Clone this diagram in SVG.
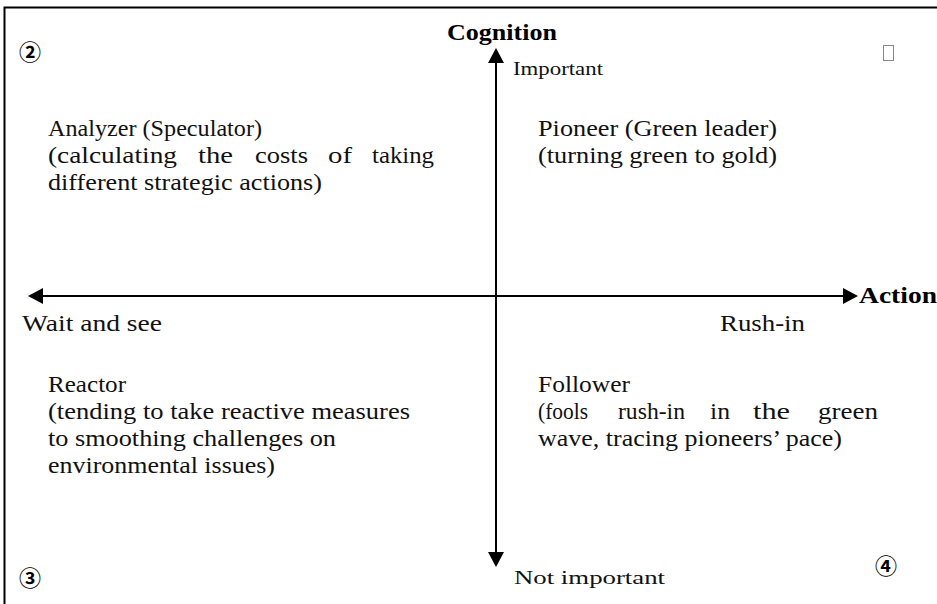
<svg xmlns="http://www.w3.org/2000/svg" width="937" height="604" viewBox="0 0 937 604">
<style>
.t{font-family:"Liberation Serif","Times New Roman",serif;font-size:23px;fill:#111}
.s{font-family:"Liberation Serif","Times New Roman",serif;font-size:19px;fill:#111}
.b{font-family:"Liberation Serif","Times New Roman",serif;font-size:23px;font-weight:bold;fill:#000}
.c{font-family:"Noto Sans CJK JP","DejaVu Sans",sans-serif;font-size:22px;font-weight:bold;fill:#000}
.ax{stroke:#000;stroke-width:2;fill:none}
</style>
<defs>
<marker id="ah" viewBox="0 0 15 16" refX="0" refY="8" markerWidth="15" markerHeight="16" markerUnits="userSpaceOnUse" orient="auto-start-reverse">
<path d="M0,0 L15,8 L0,16 Z" fill="#000"/>
</marker>
</defs>
<rect width="937" height="604" fill="#fff"/>
<path d="M4.5,604 V7.5 H937" stroke="#000" stroke-width="2" fill="none"/>
<g id="connectors">
<line class="ax" x1="43" y1="296" x2="843" y2="296" marker-start="url(#ah)" marker-end="url(#ah)"/>
<line class="ax" x1="496" y1="63" x2="496" y2="552" marker-start="url(#ah)" marker-end="url(#ah)"/>
</g>
<g id="axis-labels">
<text class="b" x="447" y="40" textLength="110" lengthAdjust="spacingAndGlyphs">Cognition</text>
<text class="s" x="513" y="75" textLength="90" lengthAdjust="spacingAndGlyphs">Important</text>
<text class="s" x="514" y="584" textLength="151" lengthAdjust="spacingAndGlyphs">Not important</text>
<text class="b" x="859" y="303" textLength="78" lengthAdjust="spacingAndGlyphs">Action</text>
<text class="t" x="22" y="331" textLength="140" lengthAdjust="spacingAndGlyphs">Wait and see</text>
<text class="t" x="720" y="331" textLength="85" lengthAdjust="spacingAndGlyphs">Rush-in</text>
</g>
<g id="marks">
<text class="c" x="19" y="60">②</text>
<text class="c" x="19" y="586">③</text>
<text class="c" x="875" y="574">④</text>
<rect x="883.5" y="45.5" width="10" height="15" fill="none" stroke="#888" stroke-width="1"/>
</g>
<g id="analyzer">
<text class="t" x="48" y="136" textLength="214" lengthAdjust="spacingAndGlyphs">Analyzer (Speculator)</text>
<text class="t" y="163"><tspan x="48" textLength="129" lengthAdjust="spacingAndGlyphs">(calculating</tspan><tspan x="198" textLength="35" lengthAdjust="spacingAndGlyphs">the</tspan><tspan x="255" textLength="53" lengthAdjust="spacingAndGlyphs">costs</tspan><tspan x="328" textLength="24" lengthAdjust="spacingAndGlyphs">of</tspan><tspan x="372" textLength="62" lengthAdjust="spacingAndGlyphs">taking</tspan></text>
<text class="t" x="48" y="190" textLength="274" lengthAdjust="spacingAndGlyphs">different strategic actions)</text>
</g>
<g id="pioneer">
<text class="t" x="538" y="136" textLength="239" lengthAdjust="spacingAndGlyphs">Pioneer (Green leader)</text>
<text class="t" x="538" y="163" textLength="239" lengthAdjust="spacingAndGlyphs">(turning green to gold)</text>
</g>
<g id="reactor">
<text class="t" x="48" y="392" textLength="78" lengthAdjust="spacingAndGlyphs">Reactor</text>
<text class="t" x="48" y="419" textLength="362" lengthAdjust="spacingAndGlyphs">(tending to take reactive measures</text>
<text class="t" x="48" y="446" textLength="288" lengthAdjust="spacingAndGlyphs">to smoothing challenges on</text>
<text class="t" x="48" y="473" textLength="227" lengthAdjust="spacingAndGlyphs">environmental issues)</text>
</g>
<g id="follower">
<text class="t" x="538" y="392" textLength="92" lengthAdjust="spacingAndGlyphs">Follower</text>
<text class="t" y="419"><tspan x="538" textLength="50" lengthAdjust="spacingAndGlyphs">(fools</tspan><tspan x="618" textLength="67" lengthAdjust="spacingAndGlyphs">rush-in</tspan><tspan x="710" textLength="20" lengthAdjust="spacingAndGlyphs">in</tspan><tspan x="753" textLength="37" lengthAdjust="spacingAndGlyphs">the</tspan><tspan x="818" textLength="60" lengthAdjust="spacingAndGlyphs">green</tspan></text>
<text class="t" x="538" y="446" textLength="304" lengthAdjust="spacingAndGlyphs">wave, tracing pioneers’ pace)</text>
</g>
</svg>
